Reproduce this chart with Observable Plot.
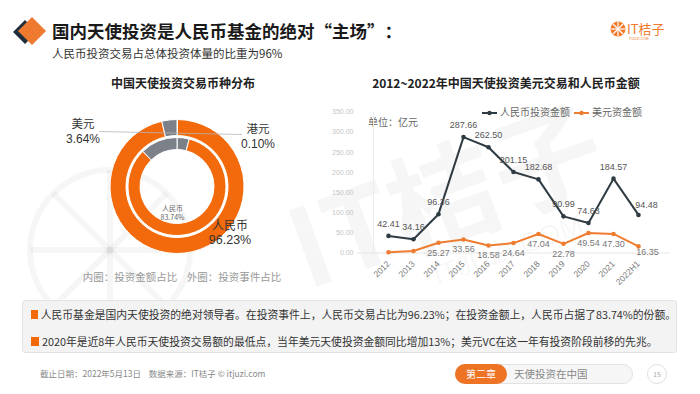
<!DOCTYPE html>
<html><head><meta charset="utf-8">
<script src="https://cdn.jsdelivr.net/npm/d3@7"></script>
<script src="https://cdn.jsdelivr.net/npm/@observablehq/plot@0.6"></script>
<style>
body{margin:0;background:#fff;}
#page{position:relative;width:700px;height:394px;overflow:hidden;font-family:"Noto Sans CJK SC","Noto Sans",sans-serif;background:#fff;color:#222;}
.abs{position:absolute;white-space:nowrap;line-height:1;}
.q{display:inline-block;width:1em;}
</style></head><body><div id="page"></div>
<script>
// ---------- data ----------
const years = ["2012","2013","2014","2015","2016","2017","2018","2019","2020","2021","2022H1"];
const rmbAmount = [42.41,34.16,96.36,287.66,262.50,201.15,182.68,90.99,74.63,184.57,94.48];
const usdAmount = [2.0,5.0,25.27,33.56,18.58,24.64,47.04,22.78,49.54,47.30,16.35];
const usdLabelled = [false,false,true,true,true,true,true,true,true,true,true];
const yTicks = [0,50,100,150,200,250,300,350];
const seriesNames = ["人民币投资金额","美元资金额"];

const currencies = ["港元","人民币","美元"];
const outerShare = [0.10,96.23,3.64];   // 外圈：投资事件占比
const innerShare = [4.00,83.74,12.26];  // 内圈：投资金额占比（美元/港元为估计）
const ringNames = ["内圈：投资金额占比","外圈：投资事件占比"];

const bullets = [
  "人民币基金是国内天使投资的绝对领导者。在投资事件上，人民币交易占比为96.23%；在投资金额上，人民币占据了83.74%的份额。",
  "2020年是近8年人民币天使投资交易额的最低点，当年美元天使投资金额同比增加13%；美元VC在这一年有投资阶段前移的先兆。"
];

const ORANGE = "#f36a0c", GRAY = "#7b8089", DARK = "#2f3b43", LORANGE = "#ee7d31";
const page = document.getElementById("page");
function addDiv(html, style){const d=document.createElement("div");d.className="abs";d.innerHTML=html;Object.assign(d.style,style);page.appendChild(d);return d;}

// ---------- faint watermark ----------
addDiv(`<svg width="700" height="394">
<g fill="none" stroke="rgba(0,0,0,0.035)" stroke-width="6"><circle cx="110" cy="250" r="80"/>
<line x1="110" y1="170" x2="110" y2="330"/><line x1="30" y1="250" x2="190" y2="250"/><line x1="53" y1="193" x2="167" y2="307"/><line x1="167" y1="193" x2="53" y2="307"/></g>
<g transform="translate(460,235) rotate(-20)"><text x="0" y="0" text-anchor="middle" font-size="110" font-weight="700" fill="rgba(0,0,0,0.035)" font-family="Noto Sans CJK SC">IT桔子</text>
<text x="40" y="40" text-anchor="middle" font-size="28" fill="rgba(0,0,0,0.04)" font-family="Liberation Sans">ITJUZI.COM</text></g></svg>`,{left:"0px",top:"0px"});

// ---------- header ----------
addDiv(`<svg width="50" height="50"><polygon points="25,20 37,32 25,44 13,32" fill="#1f2d3d"/><polygon points="32,17 46,31 32,45 18,31" fill="#ee7a30"/></svg>`,{left:"0px",top:"0px"});
addDiv("国内天使投资是人民币基金的绝对<span class='q' style='text-align:right'>“</span>主场<span class='q'>”</span>：",{left:"52px",top:"22px",fontSize:"17.5px",fontWeight:"700",color:"#1a1a1a"});
addDiv("人民币投资交易占总体投资体量的比重为96%",{left:"52px",top:"48px",fontSize:"11.5px",color:"#333"});
addDiv(`<svg width="80" height="40"><circle cx="18" cy="19" r="7.5" fill="#f07a2a"/>
<g stroke="#fff" stroke-width="1.2"><line x1="18" y1="12" x2="18" y2="26"/><line x1="11" y1="19" x2="25" y2="19"/><line x1="13" y1="14" x2="23" y2="24"/><line x1="23" y1="14" x2="13" y2="24"/></g>
<text x="27" y="24" font-size="13" fill="#f07a2a" font-family="Noto Sans CJK SC">IT桔子</text>
<text x="29" y="30" font-size="3.5" fill="#f07a2a" font-family="Liberation Sans">ITJUZI.COM</text></svg>`,{left:"600px",top:"10px"});

// ---------- donut ----------
addDiv("中国天使投资交易币种分布",{left:"183px",top:"77px",transform:"translateX(-50%)",fontSize:"12px",fontWeight:"700",color:"#222"});
const colorOf = k => k==="人民币" ? ORANGE : GRAY;
const rings = [
  {data: currencies.map((k,i)=>({k, v: outerShare[i]})), r0: 51/67, r1: 1},
  {data: currencies.map((k,i)=>({k, v: innerShare[i]})), r0: 37/67, r1: 49/67}
];
function donutMark(index, scales, values, dims){
  const g = d3.create("svg:g");
  const cx = scales.x(0), cy = scales.y(0), unit = scales.x(1) - scales.x(0);
  for (const ring of rings){
    const arcs = d3.pie().sort(null).value(d=>d.v)(ring.data);
    const arc = d3.arc().innerRadius(ring.r0*unit).outerRadius(ring.r1*unit);
    g.append("g").attr("transform",`translate(${cx},${cy})`)
      .selectAll("path").data(arcs).join("path")
      .attr("d",arc).attr("fill",d=>colorOf(d.data.k)).attr("stroke","#fff").attr("stroke-width",1);
  }
  // leader line from 美元 label across the top of the ring
  g.append("line").attr("x1", scales.x(-1.16)).attr("y1", cy-55).attr("x2", scales.x(0.97)).attr("y2", cy-52)
    .attr("stroke","#b5b5b5").attr("stroke-width",0.8);
  return g.node();
}
const donut = Plot.plot({
  width: 240, height: 180, margin: 0,
  x: {domain:[-1,1], range:[50,184]},
  y: {domain:[-1,1], range:[153.5,19.5]},
  axis: null,
  style: {fontFamily:"Noto Sans CJK SC", background:"transparent"},
  marks: [
    donutMark,
    Plot.text([`${currencies[1]}\n${innerShare[1].toFixed(2)}%`], {x: 0, y: 0, text: d=>d, dx: -5, dy: 26, fontSize: 7, fill: "#666", lineHeight: 1.3})
  ]
});
Object.assign(donut.style,{position:"absolute",left:"60px",top:"100px"});
page.appendChild(donut);
// outer labels: name line (CJK) and percent line (Latin font)
const lab = {textAlign:"center",color:"#333",transform:"translateX(-50%)"};
const num = {...lab, fontFamily:"Liberation Sans, Arial, sans-serif"};
addDiv(currencies[2],{...lab,left:"83px",top:"118px",fontSize:"11.5px"});
addDiv(`${outerShare[2].toFixed(2)}%`,{...num,left:"83px",top:"133px",fontSize:"12px"});
addDiv(currencies[0],{...lab,left:"258px",top:"123px",fontSize:"11.5px"});
addDiv(`${outerShare[0].toFixed(2)}%`,{...num,left:"258px",top:"138px",fontSize:"12px"});
addDiv(currencies[1],{...lab,left:"230px",top:"219px",fontSize:"12px"});
addDiv(`${outerShare[1].toFixed(2)}%`,{...num,left:"230px",top:"234px",fontSize:"12.5px"});
addDiv(`${ringNames[0]}&nbsp;&nbsp;&nbsp;&nbsp;${ringNames[1]}`,{left:"182px",top:"272px",transform:"translateX(-50%)",fontSize:"10.5px",color:"#999"});

// ---------- line chart ----------
addDiv("2012~2022年中国天使投资美元交易和人民币金额",{left:"506px",top:"77px",transform:"translateX(-50%)",fontSize:"12px",fontWeight:"700",color:"#222"});
addDiv(`<svg width="16" height="8"><line x1="0" y1="4" x2="15" y2="4" stroke="${DARK}" stroke-width="2"/><circle cx="7.5" cy="4" r="2.2" fill="${DARK}"/></svg><span style="vertical-align:1px;margin:0 4px 0 2px">${seriesNames[0]}</span><svg width="16" height="8"><line x1="0" y1="4" x2="15" y2="4" stroke="${LORANGE}" stroke-width="2"/><circle cx="7.5" cy="4" r="2.2" fill="${LORANGE}"/></svg><span style="vertical-align:1px;margin-left:2px">${seriesNames[1]}</span>`,
  {left:"482px",top:"107px",fontSize:"10px",color:"#666"});
addDiv("单位：亿元",{left:"368px",top:"117px",fontSize:"10px",color:"#666"});

const rmb = years.map((y,i)=>({year:y, v:rmbAmount[i], i}));
const usd = years.map((y,i)=>({year:y, v:usdAmount[i], i, lab: usdLabelled[i]}));
const last = years.length-1;
const line = Plot.plot({
  width: 390, height: 205,
  marginLeft: 57, marginRight: 20, marginTop: 16, marginBottom: 47,
  x: {type:"point", domain: years, range:[72,354]},
  y: {domain:[0,350], range:[157.5,16.5]},
  style: {fontFamily:"Liberation Sans, Arial, sans-serif", background:"transparent"},
  marks: [
    Plot.ruleY([0], {stroke:"#e6e6e6"}),
    Plot.ruleX([years[0]], {dx:-15, y1:0, y2:350, stroke:"#ececec"}),
    Plot.axisY({ticks: yTicks, tickFormat: d=>d.toFixed(2), tickSize:0, tickPadding:4, fontSize:7, fill:"#c4c4c4", label:null}),
    Plot.axisX({tickRotate:-45, tickSize:0, tickPadding:9, fontSize:8.5, fill:"#777", label:null}),
    Plot.line(usd, {x:"year", y:"v", stroke:LORANGE, strokeWidth:2}),
    Plot.dot(usd, {x:"year", y:"v", r:2.3, fill:LORANGE}),
    Plot.line(rmb, {x:"year", y:"v", stroke:DARK, strokeWidth:2}),
    Plot.dot(rmb, {x:"year", y:"v", r:2.3, fill:DARK}),
    Plot.text(rmb.filter(d=>d.i!==last), {x:"year", y:"v", text:d=>d.v.toFixed(2), dy:-12, fontSize:9, fill:"#555"}),
    Plot.text(rmb.filter(d=>d.i===last), {x:"year", y:"v", text:d=>d.v.toFixed(2), dy:-10, dx:8, fontSize:9, fill:"#555"}),
    Plot.text(usd.filter(d=>d.lab && d.i!==last), {x:"year", y:"v", text:d=>d.v.toFixed(2), dy:10, fontSize:9, fill:"#777"}),
    Plot.text(usd.filter(d=>d.i===last), {x:"year", y:"v", text:d=>d.v.toFixed(2), dy:6, dx:9, fontSize:9, fill:"#777"})
  ]
});
Object.assign(line.style,{position:"absolute",left:"300px",top:"95px"});
page.appendChild(line);

// ---------- bottom box ----------
addDiv(bullets.map(t=>`<div style="height:27px;display:flex;align-items:center"><span style="display:inline-block;width:8px;height:9px;background:${ORANGE};margin-right:3px"></span>${t}</div>`).join(""),
  {left:"22px",top:"300px",width:"655px",height:"53px",background:"#f3f3f3",border:"1px solid #e3e3e3",borderRadius:"3px",fontSize:"10.8px",color:"#333",padding:"0 0 0 8px",boxSizing:"border-box"});

// ---------- footer ----------
addDiv("截止日期：2022年5月13日&nbsp;&nbsp;&nbsp;&nbsp;数据来源：IT桔子 © itjuzi.com",{left:"40px",top:"369px",fontSize:"8.5px",color:"#888"});
addDiv("",{left:"455px",top:"364px",width:"178px",height:"20px",background:"#f6f6f6",border:"1px solid #e2e2e2",borderRadius:"11px",boxSizing:"border-box"});
addDiv("第二章",{left:"455px",top:"364px",width:"52px",height:"20px",background:"#ee7325",borderRadius:"10px",color:"#fff",fontSize:"10px",display:"flex",alignItems:"center",justifyContent:"center"});
addDiv("天使投资在中国",{left:"514px",top:"369px",fontSize:"10.5px",color:"#888"});
addDiv("15",{left:"647px",top:"364px",width:"20px",height:"20px",border:"1px solid #e0e0e0",borderRadius:"50%",boxSizing:"border-box",fontSize:"7px",color:"#aaa",display:"flex",alignItems:"center",justifyContent:"center"});
</script></body></html>
